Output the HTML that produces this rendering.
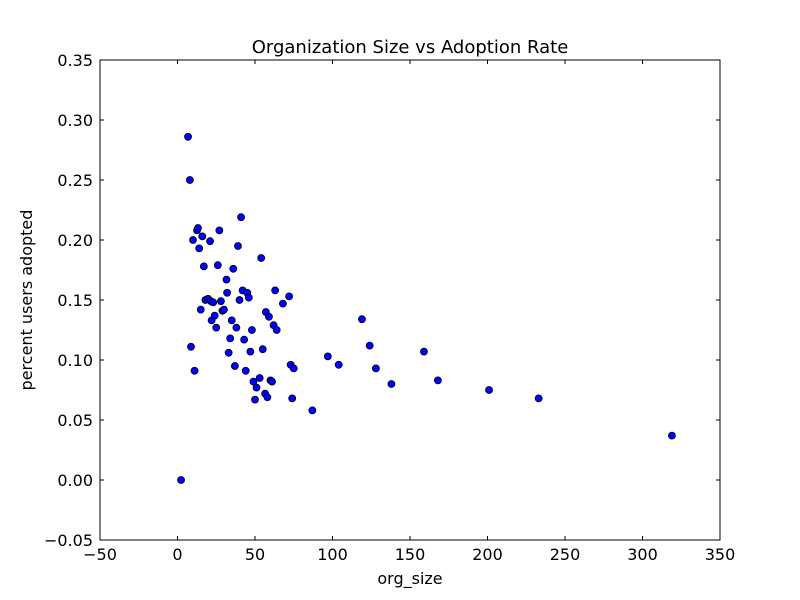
<!DOCTYPE html>
<html>
<head>
<meta charset="utf-8">
<style>
  html,body{margin:0;padding:0;background:#fff;}
  svg{display:block;font-family:"DejaVu Sans","Liberation Sans",sans-serif;}
</style>
</head>
<body>
<svg id="chart" width="800" height="600" viewBox="0 0 800 600">
  <rect x="0" y="0" width="800" height="600" fill="#fff"/>
  <text x="410" y="53" text-anchor="middle" font-size="18" fill="#000">Organization Size vs Adoption Rate</text>
  <g id="ticks"></g>
  <g id="points"></g>
  <rect x="100" y="60" width="620" height="480" fill="none" stroke="#000" stroke-width="1"/>
  <text x="410" y="584" text-anchor="middle" font-size="16">org_size</text>
  <text transform="translate(32,300) rotate(-90)" text-anchor="middle" font-size="16">percent users adopted</text>
</svg>
<script>
const orgSize = [2.3,6.8,8,8.7,10,11,12.6,13.2,14,15,16,17,18,19.7,21,21.6,22,23,24,25,26,27,28,29,30,31.6,32,33,34,35,36,37,38,39,40,41,42,43,44,45,46,47,48,49,50,51,53,54,55,56.5,57,58,59,60,61,62,63,64,68,72,73,74,75,87,97,104,119,124,128,138,159,168,201,233,319];
const adoption = [0.0,0.286,0.25,0.111,0.20,0.091,0.208,0.21,0.193,0.142,0.203,0.178,0.15,0.151,0.199,0.149,0.133,0.148,0.137,0.127,0.179,0.208,0.149,0.141,0.142,0.167,0.156,0.106,0.118,0.133,0.176,0.095,0.127,0.195,0.15,0.219,0.158,0.117,0.091,0.156,0.152,0.107,0.125,0.082,0.067,0.077,0.085,0.185,0.109,0.072,0.14,0.069,0.136,0.083,0.082,0.129,0.158,0.125,0.147,0.153,0.096,0.068,0.093,0.058,0.103,0.096,0.134,0.112,0.093,0.08,0.107,0.083,0.075,0.068,0.037];
const xTicks = [-50,0,50,100,150,200,250,300,350];
const yTicks = [-0.05,0,0.05,0.10,0.15,0.20,0.25,0.30,0.35];
const yTickLabels = ["\u22120.05","0.00","0.05","0.10","0.15","0.20","0.25","0.30","0.35"];
const xTickLabels = ["\u221250","0","50","100","150","200","250","300","350"];

const NS = "http://www.w3.org/2000/svg";
function xs(v){ return 100 + (v + 50) / 400 * 620; }
function ys(v){ return 540 - (v + 0.05) / 0.40 * 480; }

const tg = document.getElementById('ticks');
xTicks.forEach((t,i)=>{
  const x = xs(t);
  [[540,536],[60,64]].forEach(([a,b])=>{
    const l = document.createElementNS(NS,'line');
    l.setAttribute('x1',x);l.setAttribute('x2',x);l.setAttribute('y1',a);l.setAttribute('y2',b);
    l.setAttribute('stroke','#000');
    
    
    tg.appendChild(l);
  });
  const tx = document.createElementNS(NS,'text');
  tx.setAttribute('x',x);tx.setAttribute('y',560);tx.setAttribute('text-anchor','middle');tx.setAttribute('font-size','16');
  tx.textContent = xTickLabels[i];
  
  
  tg.appendChild(tx);
});
yTicks.forEach((t,i)=>{
  const y = ys(t);
  [[100,104],[720,716]].forEach(([a,b])=>{
    const l = document.createElementNS(NS,'line');
    l.setAttribute('x1',a);l.setAttribute('x2',b);l.setAttribute('y1',y);l.setAttribute('y2',y);
    l.setAttribute('stroke','#000');
    
    
    tg.appendChild(l);
  });
  const tx = document.createElementNS(NS,'text');
  tx.setAttribute('x',93);tx.setAttribute('y',y+6);tx.setAttribute('text-anchor','end');tx.setAttribute('font-size','16');
  tx.textContent = yTickLabels[i];
  
  
  tg.appendChild(tx);
});

const pg = document.getElementById('points');
orgSize.forEach((v,i)=>{
  const c = document.createElementNS(NS,'circle');
  c.setAttribute('cx',xs(v));c.setAttribute('cy',ys(adoption[i]));c.setAttribute('r',3.5);
  c.setAttribute('fill','#0000ff');c.setAttribute('stroke','#000');c.setAttribute('stroke-width','0.8');
  
  
  pg.appendChild(c);
});
</script>
</body>
</html>
